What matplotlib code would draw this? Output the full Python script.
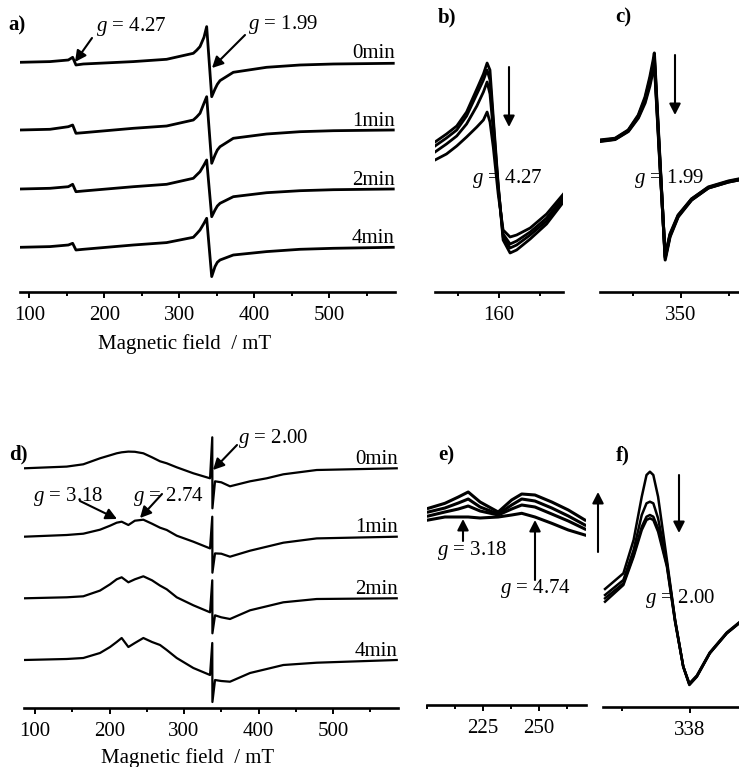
import matplotlib
matplotlib.use("Agg")
import matplotlib.pyplot as plt

plt.rcParams['font.family'] = ['Liberation Serif', 'DejaVu Serif']
plt.rcParams['mathtext.fontset'] = 'custom'
plt.rcParams['mathtext.rm'] = 'Liberation Serif'
plt.rcParams['mathtext.it'] = 'Liberation Serif:italic'

times = ['0min', '1min', '2min', '4min']

# ---- panel a: wide scan, Fe3+ (g=4.27) and g=1.99 signals (intensity in arbitrary units)
a_field = [87.6, 127.6, 152.0, 157.8, 162.2, 172.0, 238.7, 283.1, 318.7, 323.1, 327.6,
           332.9, 336.5, 343.2, 347.6, 350.7, 354.3, 372.0, 416.4, 460.9, 505.3, 585.3]
a_0min = [0, 0.7, 2.3, 5, -2.7, -1.7, 0.7, 3, 9, 12, 15.7, 25, 35.7, -34.4, -26.7, -22,
          -18.3, -10, -5, -2.7, -1.7, -1]
a_1min = [0, 0.7, 3.3, 5, -3.3, -2.7, 1.7, 4, 10, 13, 16.7, 26.7, 33.3, -33.3, -25, -20,
          -16.7, -8.3, -4, -1.7, -0.7, 0]
a_2min = [0, 0.7, 2.3, 4.7, -2.7, -2, 2.3, 4.7, 10.7, 14, 17.3, 24, 29, -27.7, -21, -17,
          -14.3, -7.7, -3.7, -1.7, -0.7, 0]
a_4min = [0, 0.7, 2.3, 4, -2.7, -2, 2.3, 4.7, 10, 13.5, 17.3, 24, 29, -29.3, -19.3, -15,
          -12.7, -7.7, -4.3, -2, -1, 0]
a_offsets = [229.7, 162, 103, 44.7]

# ---- panel b: zoom on g = 4.27
b_field = [144.4, 147.2, 149.7, 152.1, 154.6, 156.2, 157.1, 157.8, 158.6, 159.8, 161.0,
           162.7, 164.3, 167.6, 171.6, 175.7]
b_0min = [150, 158, 166, 180, 203, 218, 229, 222, 175, 108, 52, 39, 42, 53, 68, 90]
b_1min = [146, 154, 162, 176, 198, 212, 222, 212, 170, 106, 55, 44, 47, 57, 71, 92]
b_2min = [140, 148, 156, 168, 186, 200, 210, 198, 162, 104, 58, 48, 51, 60, 74, 95]
b_4min = [132, 138, 146, 155, 165, 172, 180, 170, 145, 98, 62, 55, 57, 64, 78, 98]

# ---- panel c: zoom on g = 1.99
c_field = [333.1, 336.25, 339.0, 341.1, 342.5, 343.5, 344.2, 344.44, 345.5, 346.7, 347.7,
           349.4, 352.2, 355.7, 359.9, 362.0]
c_0min = [152, 153.7, 162, 177, 195, 215, 232, 239, 142, 32, 55, 75, 92, 104, 110, 112]
c_1min = [151.5, 153.2, 161.5, 176, 193, 212, 228, 235, 140, 34, 56, 76, 92, 104, 110, 112]
c_2min = [151, 152.8, 161, 175, 191, 209, 225, 232, 138, 35, 57, 76, 93, 104.5, 110.5, 112.5]
c_4min = [150.5, 152.5, 160.5, 174, 189, 206, 222, 229, 136, 36, 58, 77, 93, 105, 111, 113]

# ---- panel d: second sample, wide scan
d_field = [85.2, 142.5, 164.8, 187.2, 200.7, 209.6, 216.3, 225.3, 234.0, 245.4, 257.0,
           267.8, 276.8, 290.2, 312.5, 334.9, 337.9, 338.1, 341.6, 350.0, 361.7, 388.6,
           411.0, 433.3, 478.1, 585.5]
d_0min = [0, 1.7, 4, 10, 13, 15, 16, 16.7, 16.5, 15, 11, 7, 5, 1, -5, -10, 31, -40, -13,
          -14, -18, -13, -10, -6, -1.7, 0]
d_1min = [0, 1.7, 3, 7, 11, 14, 15, 11.7, 16, 17, 13, 9, 6.7, 1, -5, -11.7, 20, -36,
          -16.7, -17, -20, -14, -10, -6, -1.7, 0]
d_2min = [0, 1, 2, 7.7, 14, 19, 21, 16, 19, 22, 18, 12.7, 9, 1, -7, -14, 18, -35, -17,
          -19, -20.7, -12, -8, -4, -0.7, 0]
d_4min = [0, 1, 2, 7, 13, 18, 22, 13, 17, 22, 18, 15, 10, 2, -8, -15, 17, -42, -20, -21,
          -21.7, -13, -9, -5, -2.7, 0]
d_offsets = [239.7, 171.3, 109.7, 48]

# ---- panel e: zoom on g = 3.18 / 2.74 region
e_field = [200.6, 208.0, 214.0, 218.4, 223.7, 231.8, 237.8, 242.3, 248.2, 255.7, 263.1, 270.5]
e_0min = [185, 188, 188, 188, 187, 188, 190, 191.7, 188, 181.7, 175, 170]
e_1min = [189, 193, 196, 199, 194, 190, 196, 200, 198, 191, 184, 176]
e_2min = [193, 197, 202, 206, 198, 191, 200, 206, 204, 197, 189, 180]
e_4min = [196.7, 201.7, 208, 213, 203, 193, 205, 211, 210, 203, 195, 185]

# ---- panel f: zoom on g = 2.00
f_field = [336.75, 337.02, 337.17, 337.29, 337.36, 337.41, 337.46, 337.53, 337.66, 337.78,
           337.90, 337.99, 338.10, 338.29, 338.54, 338.72]
f_0min = [118, 133.7, 167, 210.3, 232, 235.3, 232, 210.3, 147, 87, 40.3, 22, 30.3, 53.7, 73.7, 83.7]
f_1min = [112, 127, 157, 192, 203.7, 205.3, 203.7, 188.7, 143.7, 87, 40.3, 22.5, 30.5, 53.7, 73.7, 83.7]
f_2min = [108.7, 123.7, 152, 180.3, 190.3, 192, 190.3, 178.7, 142, 86, 40.5, 23, 31, 54, 74, 84]
f_4min = [105.3, 122, 150.3, 177, 187, 188.7, 187, 175.3, 140.3, 85, 40.5, 23.5, 31.5, 54.5, 74.5, 84.5]

W, H = 739, 767
fig = plt.figure(figsize=(W / 100, H / 100), dpi=100)


def px_axes(x0, x1, top, bottom):
    # axes placed by pixel box; y data runs 0..height so one unit is one pixel
    ax = fig.add_axes([x0 / W, 1 - bottom / H, (x1 - x0) / W, (bottom - top) / H])
    ax.set_ylim(0, bottom - top)
    return ax


def style(ax, xlim, major, minor):
    ax.set_xlim(xlim)
    for s in ['top', 'left', 'right']:
        ax.spines[s].set_visible(False)
    ax.spines['bottom'].set_linewidth(1.9)
    ax.set_yticks([])
    ax.set_xticks(major)
    ax.set_xticks(minor, minor=True)
    ax.tick_params(axis='x', which='major', direction='out', length=4.5, width=1.4,
                   labelsize=15, pad=5.5)
    ax.tick_params(axis='x', which='minor', direction='out', length=3, width=1.4)
    ax.patch.set_alpha(0)


def fxy(x, y):
    return (x / W, 1 - y / H)


def arrow(x0, y0, x1, y1):
    fig.add_artist(matplotlib.patches.FancyArrowPatch(
        fxy(x0, y0), fxy(x1, y1), transform=fig.transFigure,
        arrowstyle='-|>,head_length=0.55,head_width=0.28', mutation_scale=12,
        lw=1.5, color='black', shrinkA=0, shrinkB=0))


def label(x, y, s, **kw):
    fig.text(x / W, 1 - y / H, s, ha='center', va='center', fontsize=15, **kw)


# panel a
ax_a = px_axes(20, 395, 15, 292)
style(ax_a, (87.6, 587.6), [100, 200, 300, 400, 500], [150, 250, 350, 450, 550])
for ys, off, t in zip([a_0min, a_1min, a_2min, a_4min], a_offsets, times):
    ax_a.plot(a_field, [v + off for v in ys], color='black', lw=2.0)
    ax_a.text(587, off + 4, t, ha='right', va='baseline', fontsize=15)

# panel b
ax_b = px_axes(435, 563, 40, 292)
style(ax_b, (144.4, 175.6), [160], [150, 170])
for ys in [b_0min, b_1min, b_2min, b_4min]:
    ax_b.plot(b_field, ys, color='black', lw=2.0)

# panel c
ax_c = px_axes(600, 739, 40, 292)
style(ax_c, (333.1, 362.1), [350], [340, 360])
for ys in [c_0min, c_1min, c_2min, c_4min]:
    ax_c.plot(c_field, ys, color='black', lw=2.2)

# panel d
ax_d = px_axes(24, 398, 425, 708)
style(ax_d, (85.2, 587.2), [100, 200, 300, 400, 500], [150, 250, 350, 450, 550])
for ys, off, t in zip([d_0min, d_1min, d_2min, d_4min], d_offsets, times):
    ax_d.plot(d_field, [v + off for v in ys], color='black', lw=1.6)
    ax_d.text(587, off + 4.5, t, ha='right', va='baseline', fontsize=15)

# panel e
ax_e = px_axes(427, 586, 470, 705)
style(ax_e, (200, 271), [225, 250], [200, 212.5, 237.5, 262.5])
for ys in [e_0min, e_1min, e_2min, e_4min]:
    ax_e.plot(e_field, ys, color='black', lw=2.2)

# panel f
ax_f = px_axes(603, 739, 460, 707)
style(ax_f, (336.72, 338.72), [338], [337])
for ys in [f_0min, f_1min, f_2min, f_4min]:
    ax_f.plot(f_field, ys, color='black', lw=1.8)

# panel letters
for x, y, s in [(17, 25, 'a)'), (447, 17, 'b)'), (623, 17, 'c)'),
                (18, 454, 'd)'), (446, 455, 'e)'), (623, 455, 'f)')]:
    label(x, y, s, fontweight='bold')

# axis titles
label(185, 344, 'Magnetic field  / mT')
label(188, 758, 'Magnetic field  / mT')

# g-value annotations
label(131, 26, r'$g$ = 4.27')
label(283, 25, r'$g$ = 1.99')
arrow(92, 38, 75, 62)
arrow(245, 35, 212, 68)

label(507, 178, r'$g$ = 4.27')
arrow(509, 67, 509, 127)
label(669, 178, r'$g$ = 1.99')
arrow(675, 55, 675, 115)

label(273, 439, r'$g$ = 2.00')
arrow(237, 445, 213, 470)
label(68, 497, r'$g$ = 3.18')
arrow(80, 501, 117, 519)
label(168, 497, r'$g$ = 2.74')
arrow(162, 494, 140, 518)

label(472, 550, r'$g$ = 3.18')
arrow(463, 541, 463, 519)
label(535, 589, r'$g$ = 4.74')
arrow(535, 580, 535, 520)
arrow(598, 552, 598, 492)

label(680, 599, r'$g$ = 2.00')
arrow(679, 475, 679, 533)

fig.savefig('out.png', dpi=100, facecolor='white')
